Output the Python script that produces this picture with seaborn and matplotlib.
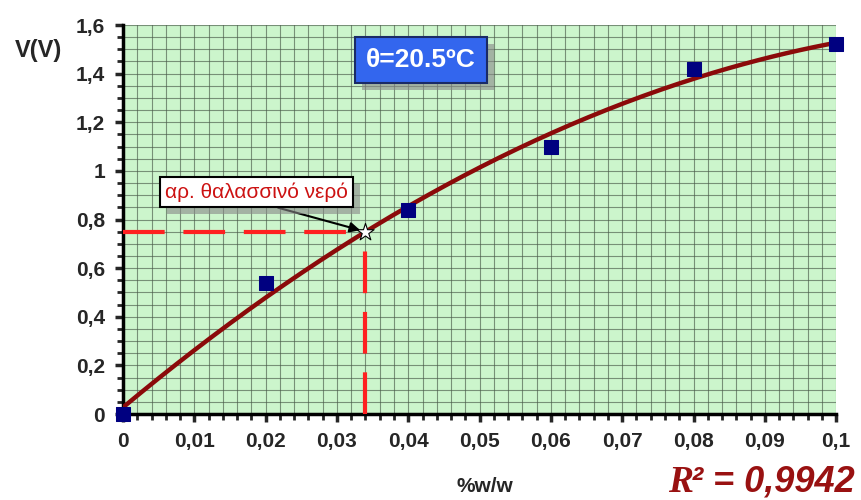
import numpy as np
import pandas as pd
import matplotlib
matplotlib.use("Agg")
import matplotlib.pyplot as plt
from matplotlib.ticker import MultipleLocator, FuncFormatter
import matplotlib.patheffects as pe
import seaborn as sns

# measured points
conc = [0.0, 0.02, 0.04, 0.06, 0.08, 0.1]
volts = [0.0, 0.54, 0.84, 1.10, 1.42, 1.52]

# sea water reading
sea_x = 0.034
sea_v = 0.75

temp_label = "θ=20.5ºC"
sea_label = "αρ. θαλασσινό νερό"
r2_value = "² = 0,9942"

df = pd.DataFrame({"conc": conc, "V": volts})

# 2nd order trend line like the spreadsheet one
coef = np.polyfit(conc, volts, 2)
xs = np.linspace(0, 0.1, 200)
fit = pd.DataFrame({"conc": xs, "V": np.polyval(coef, xs)})

sns.set_style("ticks")
plt.rcParams["font.family"] = ["Liberation Sans", "DejaVu Sans"]
plt.rcParams["font.weight"] = "bold"

fig = plt.figure(figsize=(8.62, 5.0), dpi=100)
ax = fig.add_axes([0.1427, 0.172, 0.8273, 0.778])
ax.set_facecolor("#ccf5cc")

ax.set_xlim(0, 0.1)
ax.set_ylim(0, 1.6)
ax.xaxis.set_major_locator(MultipleLocator(0.01))
ax.xaxis.set_minor_locator(MultipleLocator(0.002))
ax.yaxis.set_major_locator(MultipleLocator(0.2))
ax.yaxis.set_minor_locator(MultipleLocator(0.05))
ax.grid(which="both", color="#4a5a4a", linewidth=0.8, alpha=0.65)
ax.set_axisbelow(True)

fmt = FuncFormatter(lambda v, p: ("%g" % round(v, 4)).replace(".", ","))
ax.xaxis.set_major_formatter(fmt)
ax.yaxis.set_major_formatter(fmt)

for s in ["top", "right"]:
    ax.spines[s].set_visible(False)
for s in ["left", "bottom"]:
    ax.spines[s].set_linewidth(2.5)
    ax.spines[s].set_color("black")
ax.tick_params(which="major", length=6, width=2.5, labelsize=15, pad=7)
ax.tick_params(which="minor", length=4, width=2)
for lab in ax.get_xticklabels() + ax.get_yticklabels():
    lab.set_fontweight("bold")

# dashed guide lines to the sea-water point
ax.plot([0, sea_x], [sea_v, sea_v], color="#ff2020", lw=3, ls=(0, (10, 4.5)), zorder=3)
ax.plot([sea_x, sea_x], [0, sea_v], color="#ff2020", lw=3, ls=(0, (10, 4.5)), zorder=3)

sns.lineplot(data=fit, x="conc", y="V", color="#8b0a0a", lw=3.2, ax=ax, zorder=4)
sns.scatterplot(data=df, x="conc", y="V", marker="s", s=90, color="#000080",
                edgecolor="#000080", ax=ax, zorder=5, clip_on=False)
ax.scatter([sea_x], [sea_v], marker="*", s=170, color="white", edgecolor="black",
           linewidth=0.8, zorder=6)

ax.set_xlabel("")
ax.set_ylabel("")

shadow = [pe.withSimplePatchShadow(offset=(5, -5), shadow_rgbFace="#888888", alpha=0.6)]

ax.annotate(sea_label, xy=(sea_x, sea_v), xytext=(0.0187, 0.913),
            ha="center", va="center", fontsize=15, fontweight="normal", color="#cc1111",
            bbox=dict(boxstyle="square,pad=0.25", fc="white", ec="black", lw=1.5,
                      path_effects=shadow),
            arrowprops=dict(arrowstyle="-|>", color="black", lw=1.5,
                            shrinkA=0, shrinkB=4, relpos=(0.5, 0.0)),
            zorder=7)

ax.text(0.0418, 1.457, temp_label, ha="center", va="center", fontsize=19,
        color="white", fontweight="bold",
        bbox=dict(boxstyle="square,pad=0.42", fc="#3366ee", ec="#1a2a66", lw=1.5,
                  path_effects=shadow),
        zorder=7)

fig.text(0.045, 0.9, "V(V)", fontsize=17, fontweight="bold", ha="center", va="center")
fig.text(0.563, 0.028, "%w/w", fontsize=15, fontweight="bold", ha="center", va="center")

# R in a serif face, the rest as sans, glued together
val = fig.text(0.992, 0.036, r2_value, fontsize=26, fontweight="bold", style="italic",
               color="#991111", ha="right", va="center")
fig.canvas.draw()
bb = val.get_window_extent(fig.canvas.get_renderer())
r_x = (bb.x0 + 2) / fig.bbox.width
fig.text(r_x, 0.036, "R", fontsize=27, fontweight="bold", style="italic",
         family=["Liberation Serif", "DejaVu Serif"], color="#991111",
         ha="right", va="center")

fig.savefig("out.png", dpi=100)
